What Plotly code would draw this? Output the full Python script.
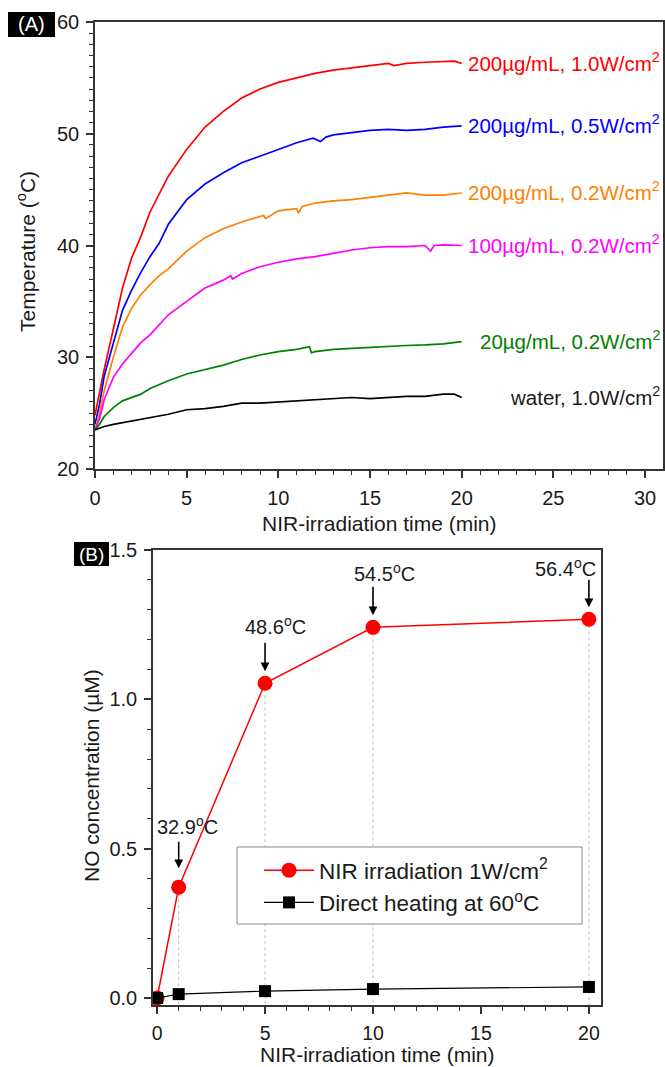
import plotly.graph_objects as go

# ---------------- Panel A data (temperature vs NIR time) ----------------
t_red = [0, 0.25, 0.5, 1, 1.5, 2, 2.5, 3, 3.5, 4, 5, 6, 7, 8, 9, 10, 11, 12, 13, 14, 15, 16, 16.3, 17, 18, 19, 19.6, 20]
T_red = [24.8, 27.0, 28.9, 32.5, 36.2, 38.9, 40.8, 43.0, 44.6, 46.2, 48.6, 50.6, 52.0, 53.2, 54.0, 54.6, 55.0, 55.4, 55.7, 55.9, 56.1, 56.3, 56.1, 56.3, 56.4, 56.5, 56.5, 56.3]

t_blue = [0, 0.25, 0.5, 1, 1.5, 2, 2.5, 3, 3.5, 4, 5, 6, 7, 8, 9, 10, 11, 11.9, 12.3, 12.6, 13, 14, 15, 16, 17, 18, 19, 20]
T_blue = [24.0, 25.8, 28.3, 31.3, 34.2, 36.0, 37.6, 39.0, 40.2, 41.9, 44.1, 45.5, 46.5, 47.4, 48.0, 48.6, 49.2, 49.6, 49.3, 49.7, 49.9, 50.1, 50.3, 50.4, 50.3, 50.4, 50.6, 50.7]

t_orange = [0, 0.25, 0.5, 1, 1.5, 2, 2.5, 3, 3.5, 4, 5, 6, 7, 8, 9, 9.2, 9.3, 10, 11, 11.1, 11.3, 12, 13, 14, 15, 16, 17, 18, 19, 20]
T_orange = [23.5, 25.0, 27.0, 30.0, 32.7, 34.4, 35.6, 36.5, 37.3, 37.9, 39.5, 40.7, 41.5, 42.1, 42.6, 42.7, 42.4, 43.1, 43.3, 42.9, 43.5, 43.8, 44.0, 44.1, 44.3, 44.5, 44.7, 44.5, 44.5, 44.7]

t_magenta = [0, 0.25, 0.5, 1, 1.5, 2, 2.5, 3, 3.5, 4, 5, 6, 7, 7.4, 7.5, 8, 9, 10, 11, 12, 13, 14, 15, 16, 17, 18, 18.3, 18.5, 19, 20]
T_magenta = [23.5, 24.5, 26.2, 28.2, 29.4, 30.4, 31.3, 32.0, 32.9, 33.8, 35.0, 36.2, 36.9, 37.3, 37.0, 37.5, 38.1, 38.5, 38.8, 39.0, 39.3, 39.6, 39.8, 39.9, 39.9, 40.0, 39.5, 40.0, 40.05, 40.0]

t_green = [0, 0.25, 0.5, 1, 1.5, 2, 2.5, 3, 4, 5, 6, 7, 8, 9, 10, 11, 11.7, 11.8, 12, 13, 14, 15, 16, 17, 18, 19, 20]
T_green = [23.5, 24.0, 24.7, 25.5, 26.1, 26.4, 26.7, 27.2, 27.9, 28.5, 28.9, 29.3, 29.8, 30.2, 30.5, 30.7, 30.95, 30.4, 30.5, 30.7, 30.8, 30.9, 31.0, 31.05, 31.1, 31.2, 31.4]

t_black = [0, 0.5, 1, 2, 3, 4, 5, 6, 7, 8, 9, 10, 11, 12, 13, 14, 15, 16, 17, 18, 19, 19.6, 20]
T_black = [23.5, 23.8, 24.0, 24.3, 24.6, 24.9, 25.3, 25.4, 25.6, 25.9, 25.9, 26.0, 26.1, 26.2, 26.3, 26.4, 26.3, 26.4, 26.5, 26.5, 26.7, 26.7, 26.4]

series_labels = [
    "200µg/mL, 1.0W/cm<sup>2</sup>",
    "200µg/mL, 0.5W/cm<sup>2</sup>",
    "200µg/mL, 0.2W/cm<sup>2</sup>",
    "100µg/mL, 0.2W/cm<sup>2</sup>",
    "20µg/mL, 0.2W/cm<sup>2</sup>",
    "water, 1.0W/cm<sup>2</sup>",
]

# ---------------- Panel B data (NO concentration) ----------------
time_b = [0, 1, 5, 10, 20]
no_nir = [0.0, 0.371, 1.054, 1.241, 1.268]
no_heat = [0.0, 0.013, 0.023, 0.030, 0.037]
temp_labels = ["", "32.9<sup>o</sup>C", "48.6<sup>o</sup>C", "54.5<sup>o</sup>C", "56.4<sup>o</sup>C"]
legend_names = ["NIR irradiation 1W/cm<sup>2</sup>", "Direct heating at 60<sup>o</sup>C"]

# ---------------- styling ----------------
W, H = 665, 1067
FONT = "Liberation Sans, Arial, sans-serif"
TXT = "#1a1a1a"
AXC = "#333333"
colors = ["#ff0000", "#0000ff", "#ff8000", "#ff00ff", "#008000", "#000000"]
# label placement (pixels) for the temperature call-outs in panel B
label_dy = [0, 62, 58, 55, 52]
label_dx = [0, 9, 10, 11, -23]
arrow_tail = [0, -47, -42, -42, -41]
arrow_gap = [0, 19, 12, 12, 12]


def px(x):
    return x / W


def py(y):
    return 1 - y / H


fig = go.Figure()

curves = [(t_red, T_red), (t_blue, T_blue), (t_orange, T_orange),
          (t_magenta, T_magenta), (t_green, T_green), (t_black, T_black)]
for (tt, TT), c in zip(curves, colors):
    fig.add_trace(go.Scatter(x=tt, y=TT, mode="lines", line=dict(color=c, width=1.7),
                             showlegend=False, xaxis="x", yaxis="y"))

annotations = []
for (tt, TT), c, lab in zip(curves, colors, series_labels):
    annotations.append(dict(x=30.92, y=TT[-1] + 0.15, xref="x", yref="y", text=lab,
                            showarrow=False, xanchor="right", yanchor="middle",
                            font=dict(family=FONT, size=20.5, color=c if c != "#000000" else TXT)))

# Panel B traces
fig.add_trace(go.Scatter(x=time_b, y=no_nir, mode="lines+markers", name=legend_names[0],
                         line=dict(color="#ff0000", width=1.5),
                         marker=dict(symbol="circle", size=15, color="#ff0000"),
                         xaxis="x2", yaxis="y2"))
fig.add_trace(go.Scatter(x=time_b, y=no_heat, mode="lines+markers", name=legend_names[1],
                         line=dict(color="#000000", width=1.2),
                         marker=dict(symbol="square", size=12, color="#000000"),
                         xaxis="x2", yaxis="y2"))

yb_min = -0.0234
shapes = []
for xv, yv in zip(time_b, no_nir):
    if yv > 0:
        shapes.append(dict(type="line", xref="x2", yref="y2", x0=xv, x1=xv, y0=yv, y1=yb_min,
                           line=dict(color="#bbbbbb", width=1, dash="dot"), layer="below"))

# legend frame (white box drawn behind the legend entries)
shapes.append(dict(type="rect", xref="paper", yref="paper", x0=px(237), x1=px(582),
                   y0=py(924), y1=py(847), fillcolor="white",
                   line=dict(color="#888888", width=1), layer="above"))
# black tags behind panel letters
shapes.append(dict(type="rect", xref="paper", yref="paper", x0=px(8), x1=px(55),
                   y0=py(37), y1=py(12), fillcolor="black", line=dict(width=0), layer="above"))
shapes.append(dict(type="rect", xref="paper", yref="paper", x0=px(74), x1=px(109),
                   y0=py(566), y1=py(542), fillcolor="black", line=dict(width=0), layer="above"))

for i, (xv, yv, lab) in enumerate(zip(time_b, no_nir, temp_labels)):
    if not lab:
        continue
    annotations.append(dict(x=xv, y=yv, xref="x2", yref="y2", text="", showarrow=True,
                            ax=0, ay=arrow_tail[i], arrowhead=2, arrowsize=1.1, arrowwidth=1.6,
                            arrowcolor="#000000", standoff=arrow_gap[i]))
    annotations.append(dict(x=xv, y=yv, xref="x2", yref="y2", text=lab, showarrow=False,
                            xanchor="center", yanchor="middle", yshift=label_dy[i],
                            xshift=label_dx[i],
                            font=dict(family=FONT, size=20, color=TXT)))


def paper_text(x, y, text, size, angle=0, **kw):
    d = dict(x=px(x), y=py(y), xref="paper", yref="paper", text=text, textangle=angle,
             showarrow=False, xanchor="center", yanchor="middle",
             font=dict(family=FONT, size=size, color=kw.pop("color", TXT)))
    d.update(kw)
    return d


# axis titles and panel tags
annotations += [
    paper_text(26, 252, "Temperature (<sup>o</sup>C)", 21, -90),
    paper_text(379, 523, "NIR-irradiation time (min)", 21),
    paper_text(91, 776, "NO concentration (µM)", 21, -90),
    paper_text(377, 1054, "NIR-irradiation time (min)", 21),
    paper_text(31.5, 24.5, "(A)", 20, color="#ffffff"),
    paper_text(91.5, 554, "(B)", 19, color="#ffffff"),
]


def axis(domain, rng, dtick, minor_dtick, anchor, fmt=None, fs=20):
    d = dict(domain=domain, range=rng, dtick=dtick, tick0=0, anchor=anchor,
             automargin=False,
             showgrid=False, zeroline=False, showline=True, linecolor=AXC, linewidth=1.5,
             mirror=True, ticks="outside", ticklen=7, tickwidth=1.5, tickcolor=AXC,
             tickfont=dict(family=FONT, size=fs, color=TXT), ticklabelstandoff=3,
             minor=dict(dtick=minor_dtick, tick0=0, ticks="outside", ticklen=4,
                        tickwidth=1.2, tickcolor=AXC, showgrid=False))
    if fmt:
        d["tickformat"] = fmt
    return d


fig.update_layout(
    template="none",
    width=W, height=H, autosize=False,
    margin=dict(l=0, r=0, t=0, b=0, pad=0, autoexpand=False),
    paper_bgcolor="white", plot_bgcolor="white",
    font=dict(family=FONT, color=TXT),
    xaxis=axis([px(95), px(663)], [0, 30.98], 5, 1, "y"),
    yaxis=axis([py(469), py(22)], [20, 60], 10, 1, "x"),
    xaxis2=axis([px(153), px(601)], [-0.19, 20.56], 5, 1, "y2", fs=19.5),
    yaxis2=axis([py(1005), py(550)], [yb_min, 1.5], 0.5, 0.1, "x2", ".1f"),
    legend=dict(x=px(259), y=py(849), xanchor="left", yanchor="top",
                borderwidth=0, bgcolor="rgba(0,0,0,0)",
                font=dict(family=FONT, size=22.5, color=TXT), itemwidth=50,
                tracegroupgap=2),
    annotations=annotations,
    shapes=shapes,
)

fig.write_html("out.html", config={"displayModeBar": False},
               post_script="document.body.style.margin='0px';document.body.style.overflow='hidden';")
